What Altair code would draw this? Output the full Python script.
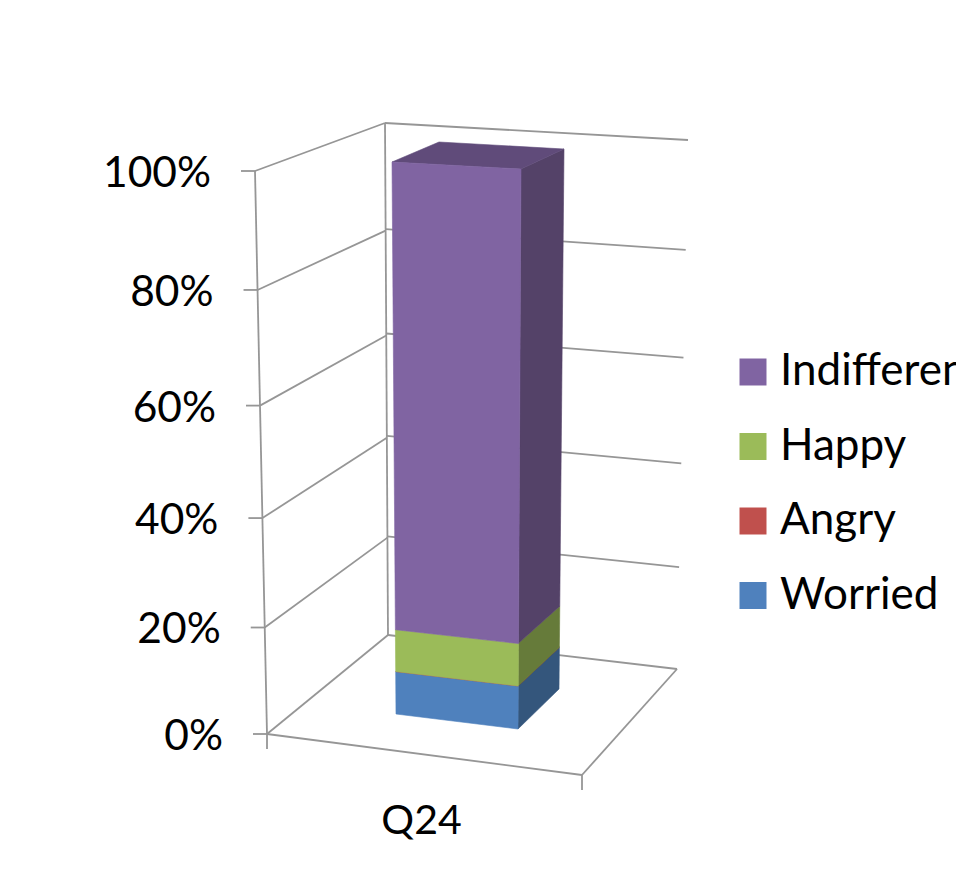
import numpy as np
import altair as alt

categories = ["Q24"]
series = ["Worried", "Angry", "Happy", "Indifferent"]
shares = [8.1, 0.0, 7.9, 84.0]
legend_order = ["Indifferent", "Happy", "Angry", "Worried"]
front_colors = {"Worried": "#4F81BD", "Angry": "#C0504D", "Happy": "#9BBB59", "Indifferent": "#8064A2"}
side_colors = {"Worried": "#34567C", "Angry": "#7E3533", "Happy": "#667B3A", "Indifferent": "#544268"}
top_colors = {"Indifferent": "#604B7A"}
y_ticks = [0, 20, 40, 60, 80, 100]
FONT = "Lato"
GREY = "#969696"


def plane(c00, c10, c11, c01):
    """Perspective map of the unit square on to one flat face of the 3D view."""
    src = [(0, 0), (1, 0), (1, 1), (0, 1)]
    A, b = [], []
    for (s, t), (u, v) in zip(src, [c00, c10, c11, c01]):
        A.append([s, t, 1, 0, 0, 0, -u * s, -u * t]); b.append(u)
        A.append([0, 0, 0, s, t, 1, -v * s, -v * t]); b.append(v)
    H = np.append(np.linalg.solve(np.array(A, float), np.array(b, float)), 1).reshape(3, 3)

    def f(s, t):
        h = H @ np.array([s, t, 1.0])
        return [float(h[0] / h[2]), float(h[1] / h[2])]
    return f


# Flat faces of the plot box and of the column (view geometry)
left_wall = plane((267, 734), (388, 635), (385, 123), (255, 171))   # s: depth, t: share
back_wall = plane((388, 635), (677, 669), (688, 140), (385, 123))   # s: across, t: share
floor = plane((267, 734), (582, 775), (677, 669), (388, 635))       # s: across, t: depth
bar_front = plane((396, 714), (518, 729), (521, 169), (392, 162))   # s: across, t: share
bar_side = plane((518, 729), (559, 689), (564, 149), (521, 169))    # s: depth, t: share
bar_top = plane((392, 162), (521, 169), (564, 149), (439, 142))


def line(a, b_, **props):
    return {"type": "Feature", "geometry": {"type": "LineString", "coordinates": [a, b_]}, "properties": props}


def poly(pts, **props):
    return {"type": "Feature", "geometry": {"type": "Polygon", "coordinates": [pts + [pts[0]]]}, "properties": props}


grid = []
for t in y_ticks:
    a = left_wall(0, t / 100)
    grid.append(line(a, left_wall(1, t / 100)))
    grid.append(line(back_wall(0, t / 100), back_wall(1, t / 100)))
    grid.append(line([a[0] - 14, a[1]], a))
grid += [line(left_wall(0, 0), left_wall(0, 1)), line(left_wall(1, 0), left_wall(1, 1)),
         line(floor(0, 0), floor(1, 0)), line(floor(1, 0), floor(1, 1))]
for x in (0, 1):
    p = floor(x, 0)
    grid.append(line(p, [p[0], p[1] + 15]))

fronts, others = [], []
base = 0.0
for s, v in zip(series, shares):
    top = base + v
    lo, hi = base / 100, top / 100
    fronts.append(poly([bar_front(0, lo), bar_front(1, lo), bar_front(1, hi), bar_front(0, hi)], series=s))
    others.append(poly([bar_side(0, lo), bar_side(1, lo), bar_side(1, hi), bar_side(0, hi)], fill=side_colors[s]))
    base = top
others.append(poly([bar_top(0, 0), bar_top(1, 0), bar_top(1, 1), bar_top(0, 1)], fill=top_colors["Indifferent"]))

labels = []
for t in y_ticks:
    p = left_wall(0, t / 100)
    labels.append({"lon": p[0] - 44, "lat": p[1] + 3, "text": f"{t}%"})
a, c = floor(0, 0), floor(1, 0)
cat = [{"lon": (a[0] + c[0]) / 2 - 3, "lat": (a[1] + c[1]) / 2 + 67, "text": categories[0]}]

projection = dict(type="identity", scale=1, translate=[-8, -8])

grid_layer = alt.Chart(alt.Data(values=grid)).mark_geoshape(filled=False, stroke=GREY, strokeWidth=1.8).project(**projection)
other_layer = alt.Chart(alt.Data(values=others)).mark_geoshape(strokeWidth=0.6).encode(
    fill=alt.Fill("properties.fill:N", scale=None),
    stroke=alt.Stroke("properties.fill:N", scale=None)).project(**projection)
color_scale = alt.Scale(domain=legend_order, range=[front_colors[s] for s in legend_order])
front_layer = alt.Chart(alt.Data(values=fronts)).mark_geoshape(strokeWidth=0.6).encode(
    fill=alt.Fill("properties.series:N", scale=color_scale, sort=legend_order,
                  legend=alt.Legend(title=None, orient="none", legendX=723, legendY=342,
                                    symbolType="square", symbolSize=729, symbolStrokeWidth=0,
                                    labelFont=FONT, labelFontSize=44, labelLimit=400, labelColor="#000000",
                                    labelOffset=5, rowPadding=30.5)),
    stroke=alt.Stroke("properties.series:N", scale=color_scale, legend=None),
).project(**projection)
tick_layer = alt.Chart(alt.Data(values=labels)).mark_text(
    font=FONT, fontSize=42.5, align="right", baseline="middle", color="#000000"
).encode(longitude="lon:Q", latitude="lat:Q", text="text:N").project(**projection)
cat_layer = alt.Chart(alt.Data(values=cat)).mark_text(
    font=FONT, fontSize=41, align="center", baseline="middle", color="#000000"
).encode(longitude="lon:Q", latitude="lat:Q", text="text:N").project(**projection)

chart = alt.layer(grid_layer, other_layer, front_layer, tick_layer, cat_layer).properties(
    width=948, height=868, padding=0, autosize=alt.AutoSizeParams(type="none"),
    background="#ffffff"
).configure_view(stroke=None)

chart.save("out.html", embed_options={"renderer": "svg", "actions": False})
